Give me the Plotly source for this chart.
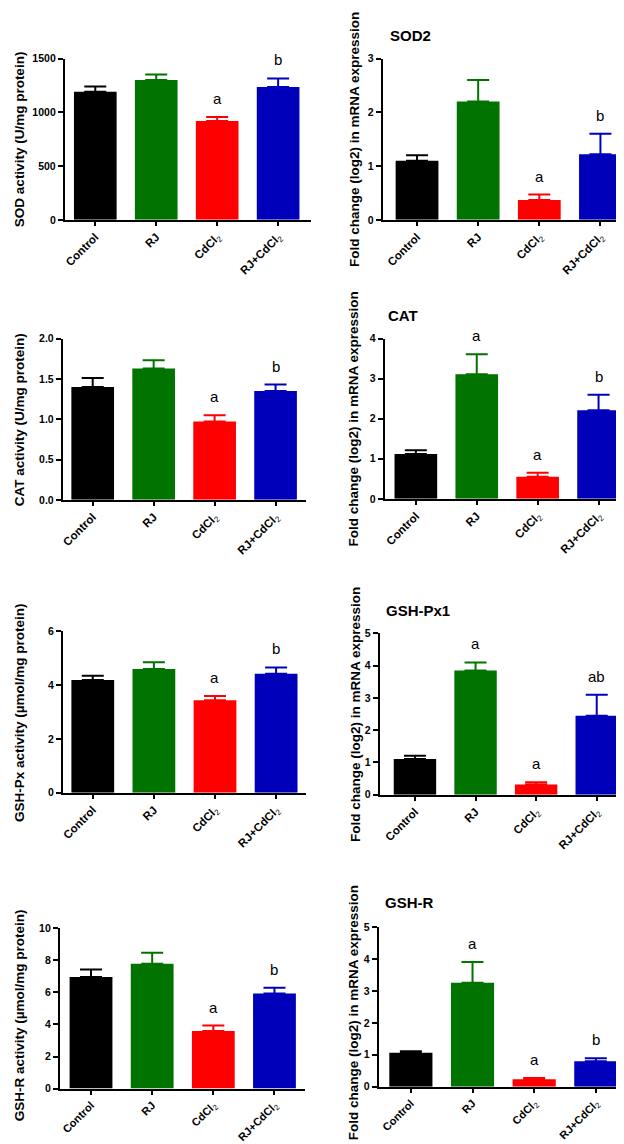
import plotly.graph_objects as go

# ---------------- data ----------------
categories = ["Control", "RJ", "CdCl<sub><span style='font-weight:normal'>2</span></sub>",
              "RJ+CdCl<sub><span style='font-weight:normal'>2</span></sub>"]
bar_colors = ["#000000", "#007300", "#ff0000", "#0000bb"]

sod_activity = [1190, 1300, 920, 1235]
sod_activity_err = [50, 52, 36, 80]
sod2_fold = [1.10, 2.20, 0.37, 1.22]
sod2_fold_err = [0.10, 0.40, 0.10, 0.38]

cat_activity = [1.40, 1.63, 0.97, 1.35]
cat_activity_err = [0.11, 0.10, 0.08, 0.08]
cat_fold = [1.12, 3.11, 0.55, 2.21]
cat_fold_err = [0.09, 0.50, 0.10, 0.39]

gpx_activity = [4.19, 4.60, 3.44, 4.43]
gpx_activity_err = [0.16, 0.25, 0.16, 0.23]
gpx1_fold = [1.11, 3.85, 0.32, 2.45]
gpx1_fold_err = [0.10, 0.25, 0.07, 0.65]

gr_activity = [6.97, 7.79, 3.59, 5.94]
gr_activity_err = [0.46, 0.68, 0.34, 0.35]
gr_fold = [1.06, 3.26, 0.23, 0.80]
gr_fold_err = [0.05, 0.65, 0.04, 0.09]

letters_sod_act = ["", "", "a", "b"]
letters_sod2 = ["", "", "a", "b"]
letters_cat_act = ["", "", "a", "b"]
letters_cat = ["", "a", "a", "b"]
letters_gpx_act = ["", "", "a", "b"]
letters_gpx1 = ["", "a", "a", "ab"]
letters_gr_act = ["", "", "a", "b"]
letters_gr = ["", "a", "a", "b"]

left_title_act = [
    "SOD activity (U/mg protein)",
    "CAT activity (U/mg protein)",
    "GSH-Px activity (µmol/mg protein)",
    "GSH-R activity (µmol/mg protein)",
]
right_title = "Fold change (log2) in mRNA expression"
gene_titles = ["SOD2", "CAT", "GSH-Px1", "GSH-R"]

# ---------------- layout config ----------------
W, H = 624, 1144
FONT = "Arial, Liberation Sans, sans-serif"

panels = [
    dict(v=sod_activity, e=sod_activity_err, L=letters_sod_act, yt=left_title_act[0], gt=None,
         ymax=1500, dtick=500, fmt="", px=(55, 302), py=(45, 208), xr=(-0.5, 3.54), tx=9),
    dict(v=sod2_fold, e=sod2_fold_err, L=letters_sod2, yt=right_title, gt=(gene_titles[0], 379, 22),
         ymax=3, dtick=1, fmt="", px=(374, 623), py=(45, 208), xr=(-0.56, 3.5), tx=345),
    dict(v=cat_activity, e=cat_activity_err, L=letters_cat_act, yt=left_title_act[1], gt=None,
         ymax=2.0, dtick=0.5, fmt=".1f", px=(53, 297), py=(328, 491), xr=(-0.49, 3.5), tx=9),
    dict(v=cat_fold, e=cat_fold_err, L=letters_cat, yt=right_title, gt=(gene_titles[1], 377, 305),
         ymax=4, dtick=1, fmt="", px=(376, 621), py=(328, 490), xr=(-0.51, 3.5), tx=345),
    dict(v=gpx_activity, e=gpx_activity_err, L=letters_gpx_act, yt=left_title_act[2], gt=None,
         ymax=6, dtick=2, fmt="", px=(53, 297), py=(624, 787), xr=(-0.49, 3.49), tx=9),
    dict(v=gpx1_fold, e=gpx1_fold_err, L=letters_gpx1, yt=right_title, gt=(gene_titles[2], 375, 603),
         ymax=5, dtick=1, fmt="", px=(371, 619), py=(626, 789), xr=(-0.58, 3.5), tx=346),
    dict(v=gr_activity, e=gr_activity_err, L=letters_gr_act, yt=left_title_act[3], gt=None,
         ymax=10, dtick=2, fmt="", px=(50, 296), py=(924, 1086), xr=(-0.51, 3.5), tx=9, tyc=1012,
         xfs=11),
    dict(v=gr_fold, e=gr_fold_err, L=letters_gr, yt=right_title, gt=(gene_titles[3], 374, 898),
         ymax=5, dtick=1, fmt="", px=(370, 618), py=(923, 1084), xr=(-0.52, 3.49), tx=345, tyc=1009,
         xfs=11),
]

fig = go.Figure()
annotations = []
xs = list(range(len(categories)))

for i, p in enumerate(panels, start=1):
    xa = "x" if i == 1 else f"x{i}"
    ya = "y" if i == 1 else f"y{i}"
    for j in xs:
        fig.add_trace(go.Bar(
            x=[j], y=[p["v"][j]], width=0.7,
            marker=dict(color=bar_colors[j], line=dict(width=0)),
            error_y=dict(type="data", symmetric=False, array=[p["e"][j]], arrayminus=[0],
                         color=bar_colors[j], thickness=2, width=11),
            xaxis=xa, yaxis=ya, showlegend=False, hoverinfo="skip",
        ))
        if p["L"][j]:
            annotations.append(dict(
                x=j, y=p["v"][j] + p["e"][j], xref=xa, yref=ya, text=p["L"][j],
                showarrow=False, yanchor="bottom", yshift=8,
                font=dict(family=FONT, size=15, color="#000000"),
            ))
    dom_x = [p["px"][0] / W, p["px"][1] / W]
    dom_y = [1 - p["py"][1] / H, 1 - p["py"][0] / H]
    axis_common = dict(showline=True, linecolor="#000000", linewidth=2, ticks="outside",
                       tickwidth=2, tickcolor="#000000", showgrid=False, zeroline=False)
    fig.layout[("xaxis" if i == 1 else f"xaxis{i}")] = dict(
        domain=dom_x, range=list(p["xr"]), anchor=ya, tickmode="array", tickvals=xs,
        ticktext=[f"<b>{c}</b>" for c in categories], tickangle=-45, ticklen=4,
        tickfont=dict(family=FONT, size=p.get("xfs", 11.5), color="#000000"), **axis_common)
    fig.layout[("yaxis" if i == 1 else f"yaxis{i}")] = dict(
        domain=dom_y, range=[0, p["ymax"]], anchor=xa, tick0=0, dtick=p["dtick"], ticklen=5,
        tickformat=p["fmt"], tickfont=dict(family=FONT, size=10.5, color="#000000", weight="bold"),
        **axis_common)
    yc = p.get("tyc", (p["py"][0] + p["py"][1]) / 2)
    annotations.append(dict(
        x=p["tx"] / W, y=1 - yc / H, xref="paper", yref="paper", text=f"<b>{p['yt']}</b>",
        textangle=-90, showarrow=False, xanchor="center", yanchor="middle",
        font=dict(family=FONT, size=13.5, color="#000000"),
    ))
    if p["gt"]:
        t, gx, gy = p["gt"]
        annotations.append(dict(
            x=gx / W, y=1 - gy / H, xref="paper", yref="paper", text=f"<b>{t}</b>",
            showarrow=False, xanchor="left", yanchor="middle",
            font=dict(family=FONT, size=15, color="#000000"),
        ))

fig.update_layout(
    width=W, height=H, margin=dict(l=0, r=0, t=0, b=0),
    paper_bgcolor="white", plot_bgcolor="white", barmode="overlay",
    annotations=annotations, font=dict(family=FONT),
)

fig.write_html("out.html")
